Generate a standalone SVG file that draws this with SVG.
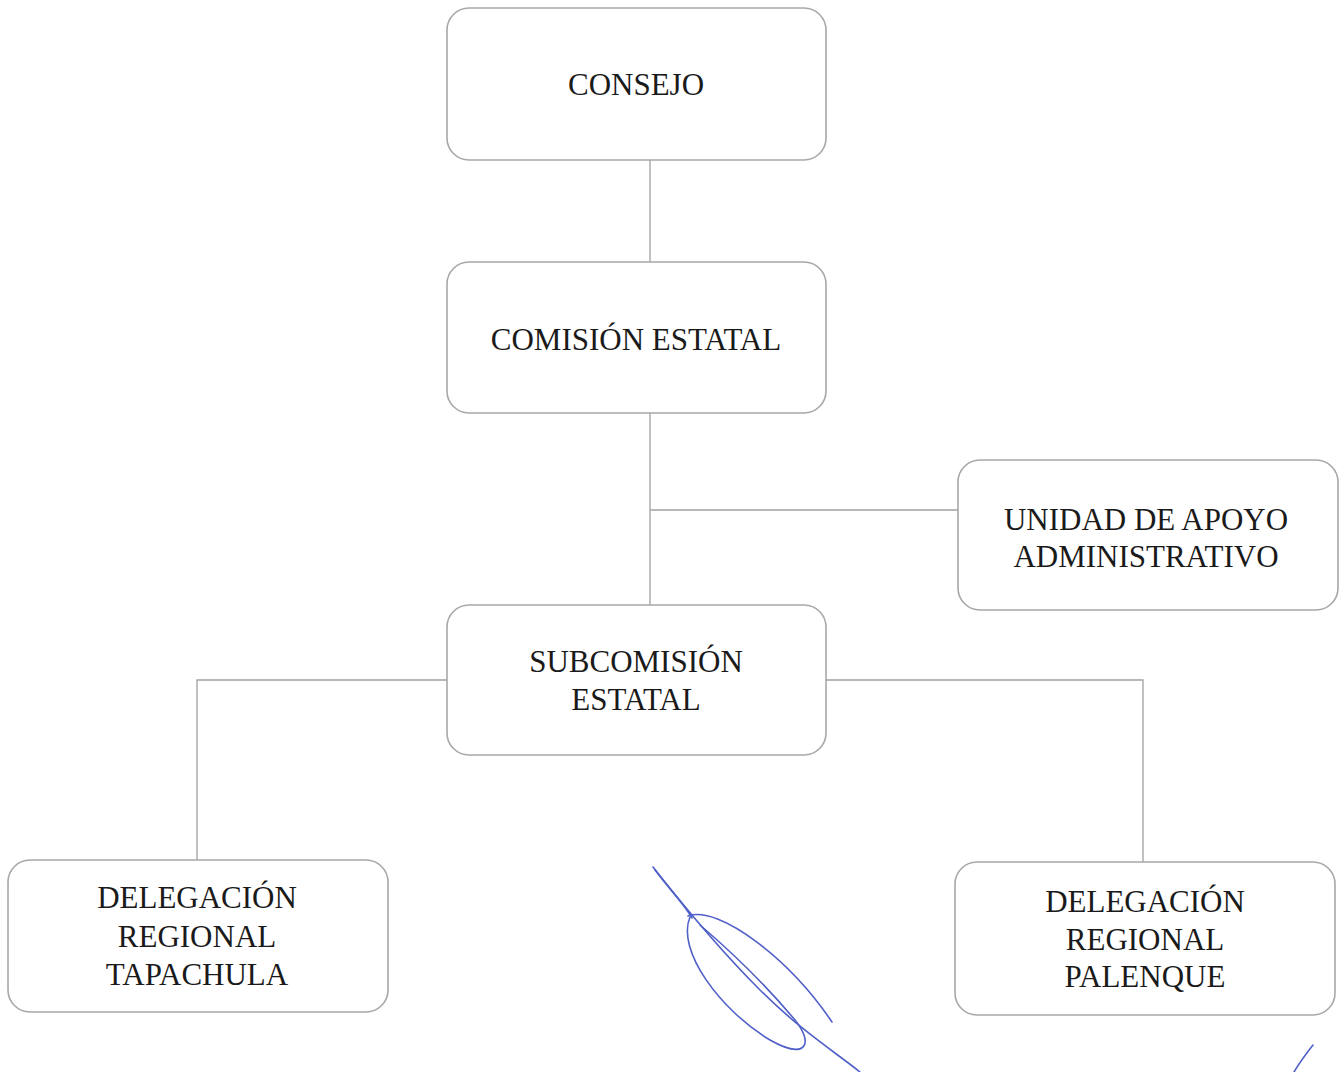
<svg xmlns="http://www.w3.org/2000/svg" width="1342" height="1072" viewBox="0 0 1342 1072">
<style>
.box{fill:#fff;stroke:#a8a8a8;stroke-width:1.6}
.t{font-family:"Liberation Serif","Times New Roman",serif;font-size:31px;fill:#1a1a1a;text-anchor:middle}
.c{fill:none;stroke:#a0a0a0;stroke-width:1.3}
.sig{fill:none;stroke:#5060c8;stroke-width:1.6;stroke-linecap:round}
</style>
<rect width="1342" height="1072" fill="#fff"/>
<g id="connectors">
<path class="c" d="M650,160 V262"/>
<path class="c" d="M650,413 V605"/>
<path class="c" d="M650,510 H958"/>
<path class="c" d="M447,680 H197 V860"/>
<path class="c" d="M826,680 H1143 V862"/>
</g>
<g id="consejo">
<rect class="box" x="447" y="8" width="379" height="152" rx="22"/>
<text class="t" x="636" y="95">CONSEJO</text>
</g>
<g id="comision">
<rect class="box" x="447" y="262" width="379" height="151" rx="22"/>
<text class="t" x="636" y="350">COMISIÓN ESTATAL</text>
</g>
<g id="unidad">
<rect class="box" x="958" y="460" width="380" height="150" rx="22"/>
<text class="t" x="1146" y="530">UNIDAD DE APOYO</text>
<text class="t" x="1146" y="567">ADMINISTRATIVO</text>
</g>
<g id="subcomision">
<rect class="box" x="447" y="605" width="379" height="150" rx="22"/>
<text class="t" x="636" y="672">SUBCOMISIÓN</text>
<text class="t" x="636" y="710">ESTATAL</text>
</g>
<g id="tapachula">
<rect class="box" x="8" y="860" width="380" height="152" rx="22"/>
<text class="t" x="197" y="908">DELEGACIÓN</text>
<text class="t" x="197" y="947">REGIONAL</text>
<text class="t" x="197" y="985">TAPACHULA</text>
</g>
<g id="palenque">
<rect class="box" x="955" y="862" width="380" height="153" rx="22"/>
<text class="t" x="1145" y="912">DELEGACIÓN</text>
<text class="t" x="1145" y="950">REGIONAL</text>
<text class="t" x="1145" y="987">PALENQUE</text>
</g>
<g id="signature">
<path class="sig" d="M653,867 C675,895 720,950 760,990 C800,1030 835,1052 860,1072"/>
<path class="sig" d="M655,870 C670,890 685,905 692,918"/>
<path class="sig" d="M690,917 C676,950 720,1010 770,1040 C805,1060 815,1045 795,1020 C770,990 735,955 700,925"/>
<path class="sig" d="M688,916 C720,905 790,960 832,1022"/>
<path class="sig" d="M1313,1045 C1305,1055 1300,1062 1294,1072"/>
</g>
</svg>
